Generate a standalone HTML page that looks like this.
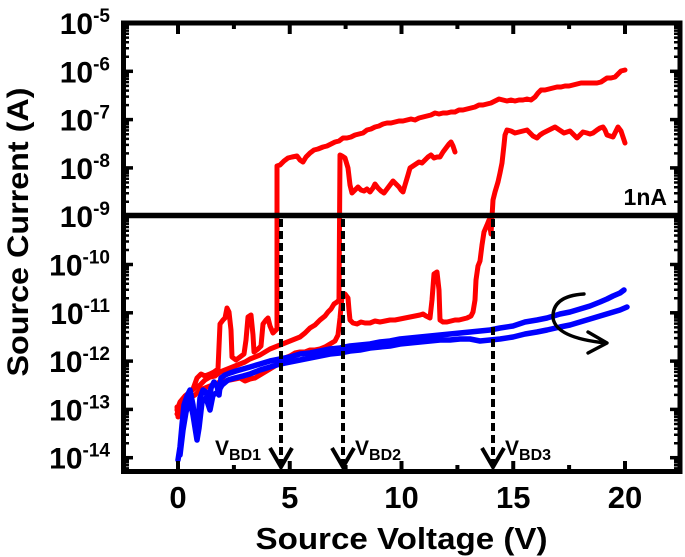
<!DOCTYPE html>
<html><head><meta charset="utf-8"><style>
html,body{margin:0;padding:0;background:#fff;}
svg{display:block;}
text{font-family:"Liberation Sans",Arial,sans-serif;font-weight:bold;fill:#000;}
</style></head><body>
<svg width="685" height="557" viewBox="0 0 685 557" xmlns="http://www.w3.org/2000/svg">
<rect width="685" height="557" fill="#fff"/>

<!-- red curves -->
<g fill="none" stroke="#ff0000" stroke-width="5" stroke-linejoin="round" stroke-linecap="round">
<polyline points="177,407 178,417 181,404 185,398 190,392 193,389 197,378 201,374 205,376 210,374 214,372 218,369 220,324 223,320 225,318 227,308 229,312 231,330 232,357 236,360 240,357 244,354 246,340 248,317 251,315 253,335 254,352 258,349 261,346 263,324 266,320 268,318 270,326 273,333 275,331 277,329 277,166 280,165 284,161 288,158 292,157 297,156 300,160 303,162 306,157 310,153 314,150 318,149 323,147 327,146 331,144 335,142 339,141 343,138 347,138 351,137 355,135 359,134 363,133 367,130 371,129 375,127 379,126 383,124 387,123 391,123 395,122 399,121 403,121 407,120 411,119 415,120 419,118 423,117 427,116 431,115 435,113 439,114 443,113 447,113 451,112 455,112 459,110 463,110 467,109 471,108 475,107 479,105 483,105 487,104 491,103 495,101 499,99 503,100 507,101 511,100 515,101 519,100 523,100 527,99 531,100 535,97 538,93 541,90 545,90 549,89 553,88 557,87 561,87 565,86 569,86 573,85 577,84 581,83 585,83 589,83 593,83 597,83 601,82 604,80 607,78 611,78 615,77 618,74 621,71 625,70"/>
<polyline points="177,410 180,402 185,396 190,392 195,388 200,385 205,380 210,377 215,376 220,372 225,370 230,368 235,366 240,364 245,362 250,359 255,357 260,355 265,352 270,349 275,347 280,345 285,343 290,341 295,339 300,337 305,333 310,328 315,325 320,320 325,316 328,312 331,309 334,304 337,302 339,300 340,155 342,156 345,158 348,168 350,185 352,193 355,190 358,187 361,190 364,191 367,189 370,192 373,188 375,184 378,188 381,191 384,193 387,189 390,185 393,181 396,184 399,187 401,190 403,192 405,185 408,175 410,168 413,166 416,164 419,162 422,163 425,160 428,157 431,155 434,158 437,157 440,157 443,152 446,148 449,144 451,142 453,146 455,152"/>
<polyline points="177,414 180,408 185,402 190,398 195,395 200,390 205,388 210,386 215,384 220,382 225,381 230,380 235,379 240,378 245,381 250,379 255,378 260,375 265,372 270,369 275,366 280,362 285,358 290,356 295,353 300,352 305,352 310,350 315,350 320,349 325,347 330,344 335,341 338,335 340,318 342,296 345,294 348,298 349,310 350,320 353,323 357,324 361,322 365,323 370,323 375,321 380,322 385,321 390,320 395,320 400,319 405,318 410,317 415,316 420,315 423,314 426,316 430,318 432,300 434,274 437,272 439,290 440,320 443,322 447,322 451,321 455,320 459,320 463,319 467,318 471,316 473,312 475,300 476,280 478,266 480,261 482,245 484,232 487,225 489,220 491,234 493,200 495,192 498,182 500,173 502,163 504,145 505,135 507,130 511,131 515,133 519,132 523,131 527,130 530,133 533,136 537,138 540,135 543,133 547,131 551,129 555,127 558,129 561,131 564,133 567,132 570,131 573,134 577,138 580,135 583,132 587,133 590,134 593,133 597,130 600,128 603,127 605,130 607,135 610,136 613,137 616,131 618,127 621,131 623,137 625,143"/>
</g>

<!-- blue curves -->
<g fill="none" stroke="#0000ff" stroke-width="5.5" stroke-linejoin="round" stroke-linecap="round">
<polyline points="178,460 180,447 182,425 184,405 187,396 190,390 193,405 195,425 196,432 198,420 200,398 203,390 206,392 209,403 211,388 214,382 217,386 219,395 221,378 225,375 230,373 236,371 243,369 250,367 260,364 270,361 280,359 290,357 300,354 310,353 320,351 330,349 340,348 350,346 360,345 370,344 380,342 390,341 400,339 410,338 420,337 430,336 440,335 450,334 460,333 470,332 480,331 490,330 500,328 513,326 525,322 537,320 547,318 560,314 570,312 580,309 590,306 600,302 607,299 613,296 620,293 624,290"/>
<polyline points="180,455 183,430 186,412 190,400 193,415 197,440 199,428 202,402 206,398 210,410 213,395 218,392 222,385 228,380 235,378 243,376 250,374 260,370 270,367 280,364 290,362 300,360 310,358 320,356 330,354 340,353 350,351 360,350 370,348 380,347 390,346 400,344 410,343 420,342 430,341 440,340 450,340 460,339 470,339 480,341 490,340 500,339 513,337 525,334 537,332 547,330 560,327 570,325 580,322 590,319 600,316 610,313 620,310 627,307"/>
</g>

<!-- dashed arrows -->
<g fill="none" stroke="#000" stroke-width="4">
<line x1="281" y1="219" x2="281" y2="465" stroke-dasharray="8,4"/>
<line x1="343" y1="219" x2="343" y2="465" stroke-dasharray="8,4"/>
<line x1="493" y1="219" x2="493" y2="465" stroke-dasharray="8,4"/>
<polyline points="270,448 281,467 292,448"/>
<polyline points="332,448 343,467 354,448"/>
<polyline points="482,448 493,467 504,448"/>
</g>

<!-- curved arrow -->
<g fill="none" stroke="#000" stroke-width="3.4" stroke-linecap="round" stroke-linejoin="round">
<path d="M584,294 Q552,296 553,318 Q556,338 606,343"/>
<polyline points="588,332 607,343 588,353"/>
</g>

<!-- 1nA line -->
<line x1="123" y1="215.5" x2="680" y2="215.5" stroke="#000" stroke-width="5.5"/>
<text x="667" y="205" font-size="23" text-anchor="end">1nA</text>

<!-- frame -->
<rect x="123.5" y="23" width="556.5" height="448.5" fill="none" stroke="#000" stroke-width="5"/>

<!-- x ticks -->
<g stroke="#000" stroke-width="4">
<line x1="178" y1="471" x2="178" y2="461"/>
<line x1="289.75" y1="471" x2="289.75" y2="461"/>
<line x1="401.5" y1="471" x2="401.5" y2="461"/>
<line x1="513.25" y1="471" x2="513.25" y2="461"/>
<line x1="625" y1="471" x2="625" y2="461"/>
<line x1="233.9" y1="471" x2="233.9" y2="465"/>
<line x1="345.6" y1="471" x2="345.6" y2="465"/>
<line x1="457.4" y1="471" x2="457.4" y2="465"/>
<line x1="569.1" y1="471" x2="569.1" y2="465"/>
<line x1="178" y1="23" x2="178" y2="34"/>
<line x1="289.75" y1="23" x2="289.75" y2="34"/>
<line x1="401.5" y1="23" x2="401.5" y2="34"/>
<line x1="513.25" y1="23" x2="513.25" y2="34"/>
<line x1="625" y1="23" x2="625" y2="34"/>
<line x1="233.9" y1="23" x2="233.9" y2="29"/>
<line x1="345.6" y1="23" x2="345.6" y2="29"/>
<line x1="457.4" y1="23" x2="457.4" y2="29"/>
<line x1="569.1" y1="23" x2="569.1" y2="29"/>
</g>

<!-- y ticks major -->
<g stroke="#000" stroke-width="3.5">
<line x1="123" y1="71.3" x2="133" y2="71.3"/><line x1="680" y1="71.3" x2="670" y2="71.3"/>
<line x1="123" y1="119.6" x2="133" y2="119.6"/><line x1="680" y1="119.6" x2="670" y2="119.6"/>
<line x1="123" y1="167.9" x2="133" y2="167.9"/><line x1="680" y1="167.9" x2="670" y2="167.9"/>
<line x1="123" y1="264.5" x2="133" y2="264.5"/><line x1="680" y1="264.5" x2="670" y2="264.5"/>
<line x1="123" y1="312.8" x2="133" y2="312.8"/><line x1="680" y1="312.8" x2="670" y2="312.8"/>
<line x1="123" y1="361.1" x2="133" y2="361.1"/><line x1="680" y1="361.1" x2="670" y2="361.1"/>
<line x1="123" y1="409.4" x2="133" y2="409.4"/><line x1="680" y1="409.4" x2="670" y2="409.4"/>
<line x1="123" y1="457.7" x2="133" y2="457.7"/><line x1="680" y1="457.7" x2="670" y2="457.7"/>
</g>
<!-- y ticks minor -->
<g stroke="#000" stroke-width="2.5">
<path d="M123,56.8h6M123,48.3h6M123,42.3h6M123,37.6h6M123,33.8h6M123,30.6h6M123,27.8h6M123,25.3h6
M123,105.1h6M123,96.6h6M123,90.6h6M123,85.9h6M123,82.1h6M123,78.9h6M123,76.1h6M123,73.6h6
M123,153.4h6M123,144.9h6M123,138.9h6M123,134.2h6M123,130.4h6M123,127.2h6M123,124.4h6M123,121.9h6
M123,201.7h6M123,193.2h6M123,187.2h6M123,182.5h6M123,178.7h6M123,175.5h6M123,172.7h6M123,170.2h6
M123,250h6M123,241.5h6M123,235.5h6M123,230.8h6M123,227h6M123,223.8h6M123,221h6M123,218.5h6
M123,298.3h6M123,289.8h6M123,283.8h6M123,279.1h6M123,275.3h6M123,272.1h6M123,269.3h6M123,266.8h6
M123,346.6h6M123,338.1h6M123,332.1h6M123,327.4h6M123,323.6h6M123,320.4h6M123,317.6h6M123,315.1h6
M123,394.9h6M123,386.4h6M123,380.4h6M123,375.7h6M123,371.9h6M123,368.7h6M123,365.9h6M123,363.4h6
M123,443.2h6M123,434.7h6M123,428.7h6M123,424h6M123,420.2h6M123,417h6M123,414.2h6M123,411.7h6
M123,468.4h6M123,465.2h6M123,462.4h6M123,459.9h6"/>
<path d="M680,56.8h-6M680,48.3h-6M680,42.3h-6M680,37.6h-6M680,33.8h-6M680,30.6h-6M680,27.8h-6M680,25.3h-6
M680,105.1h-6M680,96.6h-6M680,90.6h-6M680,85.9h-6M680,82.1h-6M680,78.9h-6M680,76.1h-6M680,73.6h-6
M680,153.4h-6M680,144.9h-6M680,138.9h-6M680,134.2h-6M680,130.4h-6M680,127.2h-6M680,124.4h-6M680,121.9h-6
M680,201.7h-6M680,193.2h-6M680,187.2h-6M680,182.5h-6M680,178.7h-6M680,175.5h-6M680,172.7h-6M680,170.2h-6
M680,250h-6M680,241.5h-6M680,235.5h-6M680,230.8h-6M680,227h-6M680,223.8h-6M680,221h-6M680,218.5h-6
M680,298.3h-6M680,289.8h-6M680,283.8h-6M680,279.1h-6M680,275.3h-6M680,272.1h-6M680,269.3h-6M680,266.8h-6
M680,346.6h-6M680,338.1h-6M680,332.1h-6M680,327.4h-6M680,323.6h-6M680,320.4h-6M680,317.6h-6M680,315.1h-6
M680,394.9h-6M680,386.4h-6M680,380.4h-6M680,375.7h-6M680,371.9h-6M680,368.7h-6M680,365.9h-6M680,363.4h-6
M680,443.2h-6M680,434.7h-6M680,428.7h-6M680,424h-6M680,420.2h-6M680,417h-6M680,414.2h-6M680,411.7h-6
M680,468.4h-6M680,465.2h-6M680,462.4h-6M680,459.9h-6"/>
</g>

<!-- y tick labels -->
<g font-size="30" text-anchor="end">
<text x="110" y="34">10<tspan font-size="19" dy="-12">-5</tspan></text>
<text x="110" y="82.3">10<tspan font-size="19" dy="-12">-6</tspan></text>
<text x="110" y="130.6">10<tspan font-size="19" dy="-12">-7</tspan></text>
<text x="110" y="178.9">10<tspan font-size="19" dy="-12">-8</tspan></text>
<text x="110" y="227.2">10<tspan font-size="19" dy="-12">-9</tspan></text>
<text x="110" y="275.5">10<tspan font-size="19" dy="-12">-10</tspan></text>
<text x="110" y="323.8">10<tspan font-size="19" dy="-12">-11</tspan></text>
<text x="110" y="372.1">10<tspan font-size="19" dy="-12">-12</tspan></text>
<text x="110" y="420.4">10<tspan font-size="19" dy="-12">-13</tspan></text>
<text x="110" y="468.7">10<tspan font-size="19" dy="-12">-14</tspan></text>
</g>

<!-- x tick labels -->
<g font-size="31" text-anchor="middle">
<text x="178" y="508">0</text>
<text x="289.75" y="508">5</text>
<text x="401.5" y="508">10</text>
<text x="513.25" y="508">15</text>
<text x="625" y="508">20</text>
</g>

<!-- V_BD labels -->
<text x="215" y="455" font-size="21">V<tspan font-size="16" dy="5">BD1</tspan></text>
<text x="355" y="455" font-size="21">V<tspan font-size="16" dy="5">BD2</tspan></text>
<text x="505" y="455" font-size="21">V<tspan font-size="16" dy="5">BD3</tspan></text>

<!-- axis titles -->
<text x="401.5" y="549" font-size="31" text-anchor="middle" textLength="292" lengthAdjust="spacingAndGlyphs">Source Voltage (V)</text>
<text transform="translate(28,232) rotate(-90)" x="0" y="0" font-size="30" text-anchor="middle" textLength="289" lengthAdjust="spacingAndGlyphs">Source Current (A)</text>
</svg>
</body></html>
